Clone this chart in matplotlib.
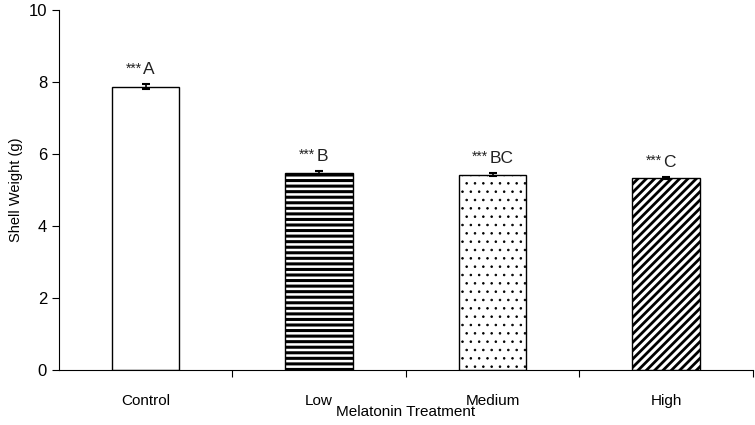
import matplotlib.pyplot as plt
import numpy as np

plt.rcParams['font.family'] = ['Liberation Sans', 'DejaVu Sans']

categories = ['Control', 'Low', 'Medium', 'High']
weights = [7.88, 5.49, 5.43, 5.35]
errors = [0.06, 0.04, 0.04, 0.03]
letters = ['A', 'B', 'BC', 'C']
hatches = ['', '---', '..', '////']
hatch_widths = [1.0, 2.2, 0.6, 2.0]

fig = plt.figure(figsize=(7.55, 4.25), dpi=100)
ax = fig.add_axes([0.078, 0.129, 0.919, 0.847])

X = np.arange(len(categories))
for x, y, e, h, hw in zip(X, weights, errors, hatches, hatch_widths):
    plt.rcParams['hatch.linewidth'] = hw
    ax.bar(x, y, width=0.39, facecolor='white', edgecolor='black',
           linewidth=1.0, hatch=h, zorder=2)
    ax.errorbar(x, y, yerr=e, fmt='none', ecolor='black', elinewidth=1.2,
                capsize=3, capthick=1.5, zorder=3)

for x, y, e, lab in zip(X, weights, errors, letters):
    ax.annotate('***', (x, y + e), xytext=(-3, 6.5), textcoords='offset points',
                ha='right', va='bottom', fontsize=10, color='#222222')
    ax.annotate(lab, (x, y + e), xytext=(-2, 5), textcoords='offset points',
                ha='left', va='bottom', fontsize=12.5, color='#222222')

ax.set_xlim(-0.5, 3.5)
ax.set_ylim(0, 10)
ax.set_yticks([0, 2, 4, 6, 8, 10])
ax.set_xticks(X + 0.5)
ax.set_xticklabels([])
ax.set_xticks(X, minor=True)
ax.set_xticklabels(categories, minor=True)
ax.tick_params(axis='x', which='minor', length=0, pad=17, labelsize=11)
ax.tick_params(axis='x', which='major', length=5, direction='out')
ax.tick_params(axis='y', length=5, direction='out', labelsize=12)

for s in ['top', 'right']:
    ax.spines[s].set_visible(False)

ax.set_xlabel('Melatonin Treatment', fontsize=11, labelpad=-2)
ax.set_ylabel('Shell Weight (g)', fontsize=10.5, labelpad=4)

fig.savefig('out.png', dpi=100)
